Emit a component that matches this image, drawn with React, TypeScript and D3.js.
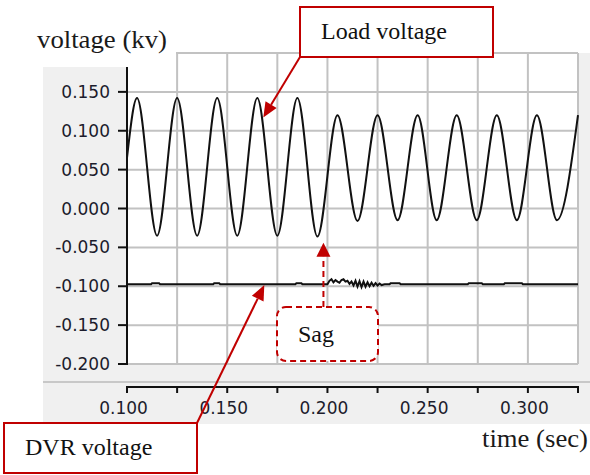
import React from "react";
import * as d3 from "d3";

// Load voltage: extremes (peaks / troughs)
const loadTime = [0.100, 0.105, 0.115, 0.125, 0.135, 0.145, 0.155, 0.165, 0.175, 0.185, 0.195, 0.205, 0.215, 0.225, 0.235, 0.245, 0.2545, 0.2645, 0.2745, 0.2845, 0.2945, 0.3045, 0.3145, 0.325];
const loadVolt = [0.065, 0.142, -0.035, 0.142, -0.035, 0.142, -0.035, 0.142, -0.035, 0.142, -0.036, 0.120, -0.016, 0.120, -0.015, 0.120, -0.015, 0.120, -0.015, 0.120, -0.015, 0.120, -0.015, 0.120];

// DVR voltage: nearly flat with a transient after the sag
const dvrTime = [0.100, 0.112, 0.1125, 0.116, 0.1165, 0.143, 0.1435, 0.146, 0.1465, 0.184, 0.1845, 0.187, 0.1875, 0.200,
  0.201, 0.202, 0.203, 0.204, 0.205, 0.206, 0.207, 0.208, 0.209, 0.210, 0.211, 0.212, 0.213, 0.214, 0.215, 0.216, 0.217, 0.218, 0.219, 0.220, 0.221, 0.222, 0.223, 0.224, 0.225, 0.226, 0.227, 0.2285,
  0.231, 0.2315, 0.236, 0.2365, 0.270, 0.2705, 0.277, 0.2775, 0.288, 0.2885, 0.297, 0.2975, 0.325];
const dvrVolt = [-0.0975, -0.0975, -0.0962, -0.0962, -0.0975, -0.0975, -0.0962, -0.0962, -0.0975, -0.0975, -0.0962, -0.0962, -0.0975, -0.0975,
  -0.093, -0.091, -0.095, -0.092, -0.094, -0.0955, -0.092, -0.091, -0.094, -0.093, -0.097, -0.094, -0.099, -0.093, -0.1005, -0.0935, -0.101, -0.094, -0.1005, -0.095, -0.100, -0.0955, -0.0995, -0.096, -0.099, -0.0965, -0.0985, -0.0975,
  -0.0975, -0.0962, -0.0962, -0.0975, -0.0975, -0.0962, -0.0962, -0.0975, -0.0975, -0.0962, -0.0962, -0.0975, -0.0975];

const yTicks = [-0.2, -0.15, -0.1, -0.05, 0, 0.05, 0.1, 0.15];
const yTickLabels = ["-0.200", "-0.150", "-0.100", "-0.050", "0.000", "0.050", "0.100", "0.150"];
const yGrid = [-0.2, -0.15, -0.1, -0.05, 0, 0.05, 0.1, 0.15, 0.2];
const xTicks = [0.1, 0.125, 0.15, 0.175, 0.2, 0.225, 0.25, 0.275, 0.3, 0.325];
const xMajor = [0.1, 0.15, 0.2, 0.25, 0.3];
const xTickLabels = ["0.100", "0.150", "0.200", "0.250", "0.300"];

const RED = "#c00000";
const SERIF = "'Liberation Serif', 'Times New Roman', serif";
const SANS = "'DejaVu Sans', Verdana, sans-serif";

function Arrow({ x1, y1, x2, y2, len = 15, w = 13, dash }: any) {
  const a = Math.atan2(y2 - y1, x2 - x1);
  const bx = x2 - len * Math.cos(a);
  const by = y2 - len * Math.sin(a);
  const px = -Math.sin(a) * (w / 2);
  const py = Math.cos(a) * (w / 2);
  const pts = `${x2},${y2} ${bx + px},${by + py} ${bx - px},${by - py}`;
  return (
    <g>
      <line x1={x1} y1={y1} x2={bx} y2={by} stroke={RED} strokeWidth={2} strokeDasharray={dash} />
      <polygon points={pts} fill={RED} />
    </g>
  );
}

export default function App() {
  const x = d3.scaleLinear().domain([0.1, 0.325]).range([127, 578]);
  const y = d3.scaleLinear().domain([-0.2, 0.2]).range([364, 53]);

  const loadLine = d3.line<number>()
    .x((_, i) => x(loadTime[i]))
    .y((d) => y(d))
    .curve(d3.curveMonotoneX)(loadVolt) as string;
  const dvrLine = d3.line<number>()
    .x((_, i) => x(dvrTime[i]))
    .y((d) => y(d))(dvrVolt) as string;

  const [x0, x1] = x.range();
  const [yb, yt] = y.range();

  return (
    <div style={{ position: "absolute", left: 0, top: 0 }}>
      <svg width={590} height={475} style={{ display: "block", background: "#fff" }}>
        {/* panel */}
        <rect x={43} y={53} width={547} height={371} fill="#f0f0f0" />
        <rect x={x0} y={yt} width={x1 - x0} height={yb - yt} fill="#fff" />
        {/* grid */}
        {xTicks.slice(1).map((t) => (
          <line key={"gx" + t} x1={x(t)} x2={x(t)} y1={yt} y2={yb} stroke="#c2c2c2" strokeWidth={2} />
        ))}
        {yGrid.map((t) => (
          <line key={"gy" + t} x1={x0} x2={x1} y1={y(t)} y2={y(t)} stroke="#c2c2c2" strokeWidth={2} />
        ))}
        {/* separator */}
        <line x1={43} x2={590} y1={382} y2={382} stroke="#c8c8c8" strokeWidth={2} />
        {/* data */}
        <path d={loadLine} fill="none" stroke="#111" strokeWidth={2} />
        <path d={dvrLine} fill="none" stroke="#111" strokeWidth={2} />
        {/* y axis */}
        <line x1={x0} x2={x0} y1={67} y2={yb + 1} stroke="#111" strokeWidth={2} />
        {yTicks.map((t, i) => (
          <g key={"yt" + t}>
            <line x1={x0 - 9} x2={x0} y1={y(t)} y2={y(t)} stroke="#111" strokeWidth={2} />
            <text x={110} y={y(t)} dy="0.36em" textAnchor="end" fontFamily={SANS} fontSize={17} fill="#1c1c2c">
              {yTickLabels[i]}
            </text>
          </g>
        ))}
        {/* x axis */}
        <line x1={x0 - 1} x2={x1 + 1} y1={387} y2={387} stroke="#111" strokeWidth={2} />
        {xTicks.map((t) => (
          <line key={"xt" + t} x1={x(t)} x2={x(t)} y1={387} y2={393} stroke="#111" strokeWidth={2} />
        ))}
        {xMajor.map((t, i) => (
          <text key={"xl" + t} x={x(t) - 3.5} y={414} textAnchor="middle" fontFamily={SANS} fontSize={17} fill="#1c1c2c">
            {xTickLabels[i]}
          </text>
        ))}
        {/* title area */}
        <rect x={0} y={0} width={176} height={67} fill="#fff" />
        <text x={37} y={48} fontFamily={SERIF} fontSize={26} fill="#1a1a1a" textLength={130} lengthAdjust="spacingAndGlyphs">
          voltage (kv)
        </text>
        <text x={482} y={447} fontFamily={SERIF} fontSize={26} fill="#1a1a1a" textLength={106} lengthAdjust="spacingAndGlyphs">
          time (sec)
        </text>
        {/* Load voltage annotation */}
        <rect x={300} y={7} width={193} height={50} fill="#fff" stroke={RED} strokeWidth={2} />
        <text x={321} y={39} fontFamily={SERIF} fontSize={24} fill="#111">Load voltage</text>
        <Arrow x1={300} y1={57} x2={x(0.168)} y2={y(0.117)} />
        {/* DVR voltage annotation */}
        <rect x={4} y={423} width={193} height={50} fill="#fff" stroke={RED} strokeWidth={2} />
        <text x={25} y={455} fontFamily={SERIF} fontSize={24} fill="#111">DVR voltage</text>
        <Arrow x1={197} y1={423} x2={x(0.1685)} y2={y(-0.0985)} />
        {/* Sag annotation */}
        <rect x={277} y={307} width={101} height={54} rx={9} fill="#fff" stroke={RED} strokeWidth={2} strokeDasharray="6,4" />
        <text x={298} y={342} fontFamily={SERIF} fontSize={24} fill="#111">Sag</text>
        <Arrow x1={x(0.198)} y1={307} x2={x(0.198)} y2={y(-0.044)} len={14} w={14} dash="6,4" />
      </svg>
    </div>
  );
}
